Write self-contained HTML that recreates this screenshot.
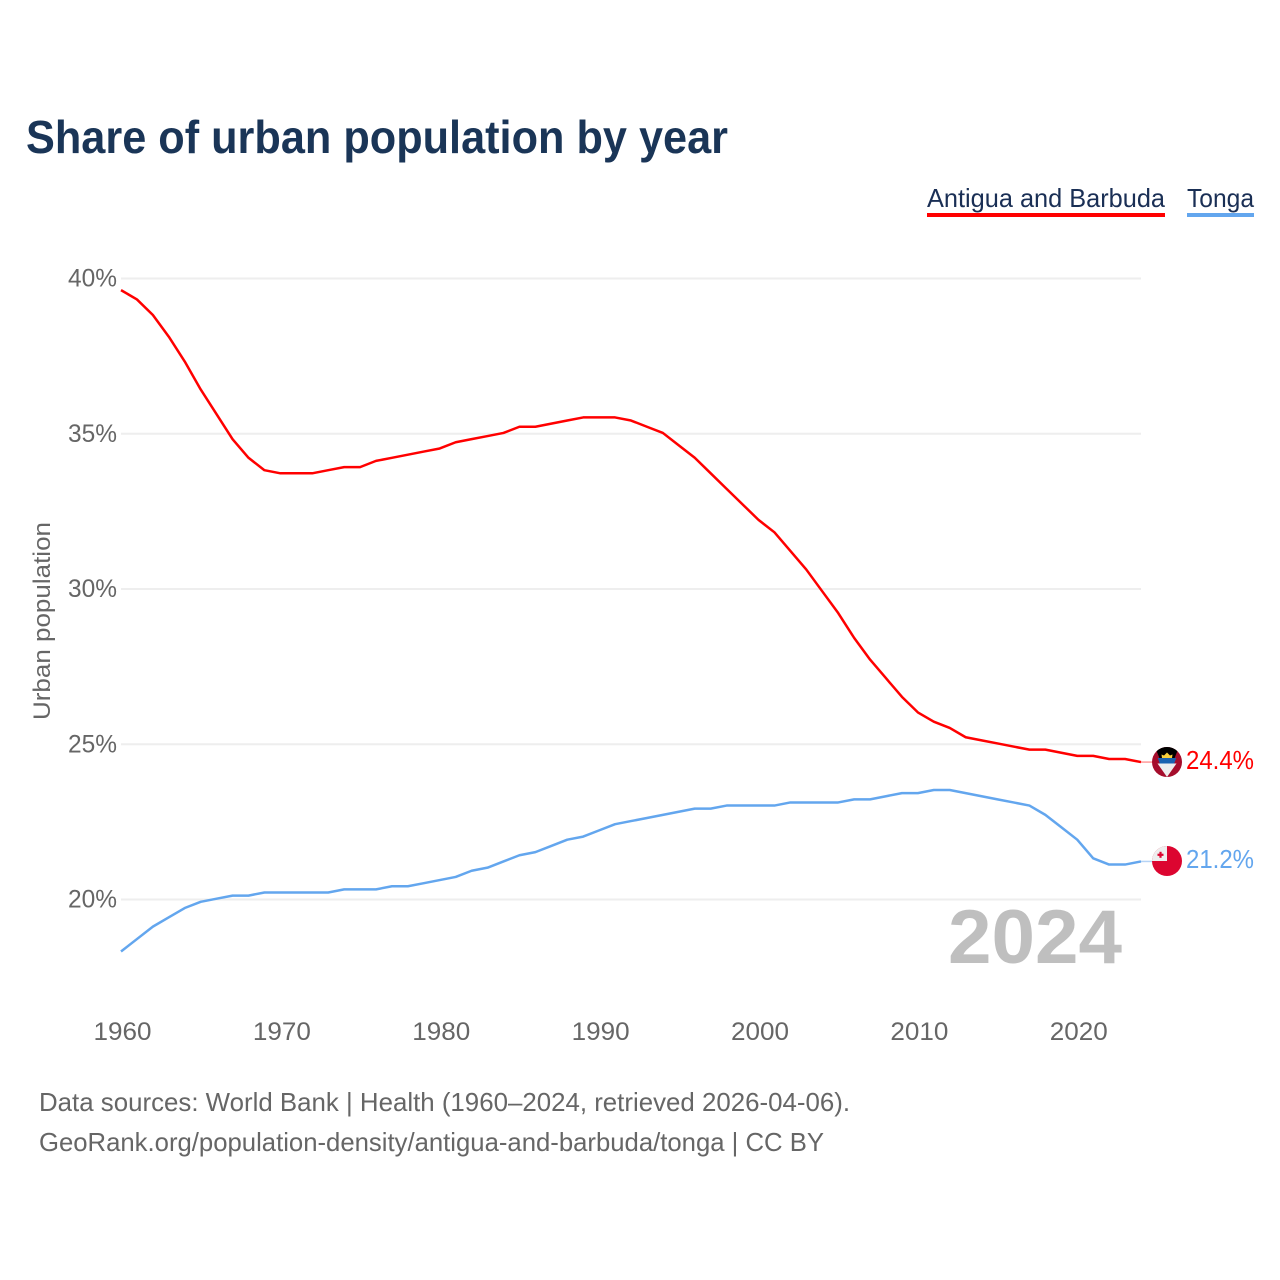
<!DOCTYPE html>
<html lang="en">
<head>
<meta charset="utf-8">
<title>Share of urban population by year</title>
<style>
html,body{margin:0;padding:0;background:#fff;width:1280px;height:1280px;overflow:hidden}
svg{display:block}
text{font-family:"Liberation Sans",sans-serif}
</style>
</head>
<body>
<svg id="chart" width="1280" height="1280" viewBox="0 0 1280 1280" xmlns="http://www.w3.org/2000/svg">
  <defs>
    <clipPath id="clip-ag"><circle cx="1167" cy="762" r="15"/></clipPath>
    <clipPath id="clip-to"><circle cx="1167" cy="861" r="15"/></clipPath>
  </defs>
  <rect width="1280" height="1280" fill="#fff"/>
  <text x="26" y="153" font-size="46" font-weight="700" fill="#1a3557" textLength="702" lengthAdjust="spacingAndGlyphs">Share of urban population by year</text>
  <g>
    <g>
      <text x="927" y="207" font-size="26" fill="#1a2f55" textLength="238" lengthAdjust="spacingAndGlyphs">Antigua and Barbuda</text>
      <rect x="927" y="213" width="238" height="4" fill="#ff0000"/>
    </g>
    <g>
      <text x="1187" y="207" font-size="26" fill="#1a2f55" textLength="67" lengthAdjust="spacingAndGlyphs">Tonga</text>
      <rect x="1187" y="213" width="67" height="4" fill="#63a6ee"/>
    </g>
  </g>
  <g id="grid"></g>
  <g id="y-ticks"></g>
  <g id="x-ticks"></g>
  <text transform="translate(50,621) rotate(-90)" text-anchor="middle" font-size="24" fill="#666" textLength="198" lengthAdjust="spacingAndGlyphs">Urban population</text>
  <text x="948" y="963" font-size="76" font-weight="700" fill="#bfbfbf" textLength="174" lengthAdjust="spacingAndGlyphs">2024</text>
  <g id="series" transform="translate(0,-0.8)"></g>
  <g>
    <g clip-path="url(#clip-ag)">
      <rect x="1152" y="747" width="30" height="30" fill="#a50d2c"/>
      <polygon points="1155,747 1179,747 1167,777" fill="#000"/>
      <polygon points="1157.5,763.5 1176.5,763.5 1167,777" fill="#eeeeee"/>
      <polygon points="1157.7,758 1176.3,758 1174.2,763.5 1159.8,763.5" fill="#1a62b0"/>
      <path d="M1162 758 L1161.5 754.5 L1164 755.5 L1167 752.5 L1170 755.5 L1172.5 754.5 L1172 758 Z" fill="#f7cf3c"/>
    </g>
  </g>
  <g>
    <g clip-path="url(#clip-to)">
      <rect x="1152" y="846" width="30" height="30" fill="#dc0530"/>
      <rect x="1152" y="846" width="15" height="15" fill="#eeeeee"/>
      <rect x="1157.5" y="853.7" width="6" height="2.2" fill="#dc0530"/>
      <rect x="1159.4" y="851.8" width="2.2" height="6" fill="#dc0530"/>
    </g>
  </g>
  <g id="end-labels"></g>
  <text x="39" y="1111" font-size="26" fill="#666" textLength="811" lengthAdjust="spacingAndGlyphs">Data sources: World Bank | Health (1960–2024, retrieved 2026-04-06).</text>
  <text x="39" y="1151" font-size="26" fill="#666" textLength="785" lengthAdjust="spacingAndGlyphs">GeoRank.org/population-density/antigua-and-barbuda/tonga | CC BY</text>
</svg>
<script>
const years = [1960,1961,1962,1963,1964,1965,1966,1967,1968,1969,1970,1971,1972,1973,1974,1975,1976,1977,1978,1979,1980,1981,1982,1983,1984,1985,1986,1987,1988,1989,1990,1991,1992,1993,1994,1995,1996,1997,1998,1999,2000,2001,2002,2003,2004,2005,2006,2007,2008,2009,2010,2011,2012,2013,2014,2015,2016,2017,2018,2019,2020,2021,2022,2023,2024];
const antiguaValues = [39.6,39.3,38.8,38.1,37.3,36.4,35.6,34.8,34.2,33.8,33.7,33.7,33.7,33.8,33.9,33.9,34.1,34.2,34.3,34.4,34.5,34.7,34.8,34.9,35.0,35.2,35.2,35.3,35.4,35.5,35.5,35.5,35.4,35.2,35.0,34.6,34.2,33.7,33.2,32.7,32.2,31.8,31.2,30.6,29.9,29.2,28.4,27.7,27.1,26.5,26.0,25.7,25.5,25.2,25.1,25.0,24.9,24.8,24.8,24.7,24.6,24.6,24.5,24.5,24.4];
const tongaValues = [18.3,18.7,19.1,19.4,19.7,19.9,20.0,20.1,20.1,20.2,20.2,20.2,20.2,20.2,20.3,20.3,20.3,20.4,20.4,20.5,20.6,20.7,20.9,21.0,21.2,21.4,21.5,21.7,21.9,22.0,22.2,22.4,22.5,22.6,22.7,22.8,22.9,22.9,23.0,23.0,23.0,23.0,23.1,23.1,23.1,23.1,23.2,23.2,23.3,23.4,23.4,23.5,23.5,23.4,23.3,23.2,23.1,23.0,22.7,22.3,21.9,21.3,21.1,21.1,21.2];
const yTickValues = [20,25,30,35,40];
const xTickValues = [1960,1970,1980,1990,2000,2010,2020];

const SVG_NS = 'http://www.w3.org/2000/svg';
function xScale(year) { return 121 + (year - 1960) * (1141 - 121) / (2024 - 1960); }
function yScale(value) { return 899.5 - (value - 20) * (899.5 - 278.5) / (40 - 20); }
function make(tag, attrs, parent) {
  const el = document.createElementNS(SVG_NS, tag);
  for (const k in attrs) el.setAttribute(k, attrs[k]);
  parent.appendChild(el);
  return el;
}

const gridGroup = document.getElementById('grid');
const yGroup = document.getElementById('y-ticks');
yTickValues.forEach(function (v) {
  const line = make('line', {x1: 121, x2: 1141, y1: yScale(v), y2: yScale(v), stroke: '#eeeeee', 'stroke-width': 2}, gridGroup);
  
  
  const label = make('text', {x: 117, y: yScale(v) + 8, 'text-anchor': 'end', 'font-size': 25, fill: '#666', textLength: 49, lengthAdjust: 'spacingAndGlyphs'}, yGroup);
  
  
  label.textContent = v + '%';
});

const xGroup = document.getElementById('x-ticks');
xTickValues.forEach(function (y) {
  const label = make('text', {x: xScale(y) + 1.5, y: 1040, 'text-anchor': 'middle', 'font-size': 25, fill: '#666', textLength: 58, lengthAdjust: 'spacingAndGlyphs'}, xGroup);
  
  
  label.textContent = y;
});

function pathFor(values) {
  return values.map(function (v, i) {
    return (i ? 'L' : 'M') + xScale(years[i]).toFixed(2) + ' ' + yScale(v).toFixed(2);
  }).join(' ');
}

const seriesGroup = document.getElementById('series');
const labelGroup = document.getElementById('end-labels');

const antiguaLine = make('path', {d: pathFor(antiguaValues), fill: 'none', stroke: '#ff0000', 'stroke-width': 2.5, 'stroke-linejoin': 'round'}, seriesGroup);



const tongaLine = make('path', {d: pathFor(tongaValues), fill: 'none', stroke: '#63a6ee', 'stroke-width': 2.5, 'stroke-linejoin': 'round'}, seriesGroup);



const lastIndex = years.length - 1;

const antiguaConnector = make('line', {x1: xScale(years[lastIndex]), x2: 1152, y1: yScale(antiguaValues[lastIndex]), y2: yScale(antiguaValues[lastIndex]), stroke: '#ff9a9a', 'stroke-width': 1.5}, seriesGroup);



const tongaConnector = make('line', {x1: xScale(years[lastIndex]), x2: 1152, y1: yScale(tongaValues[lastIndex]), y2: yScale(tongaValues[lastIndex]), stroke: '#b5d3f5', 'stroke-width': 1.5}, seriesGroup);



const antiguaLabel = make('text', {x: 1186, y: yScale(antiguaValues[lastIndex]) + 6, 'font-size': 26, fill: '#ff0000', textLength: 68, lengthAdjust: 'spacingAndGlyphs'}, labelGroup);


antiguaLabel.textContent = antiguaValues[lastIndex].toFixed(1) + '%';

const tongaLabel = make('text', {x: 1186, y: yScale(tongaValues[lastIndex]) + 6, 'font-size': 26, fill: '#63a6ee', textLength: 68, lengthAdjust: 'spacingAndGlyphs'}, labelGroup);


tongaLabel.textContent = tongaValues[lastIndex].toFixed(1) + '%';
</script>
</body>
</html>
